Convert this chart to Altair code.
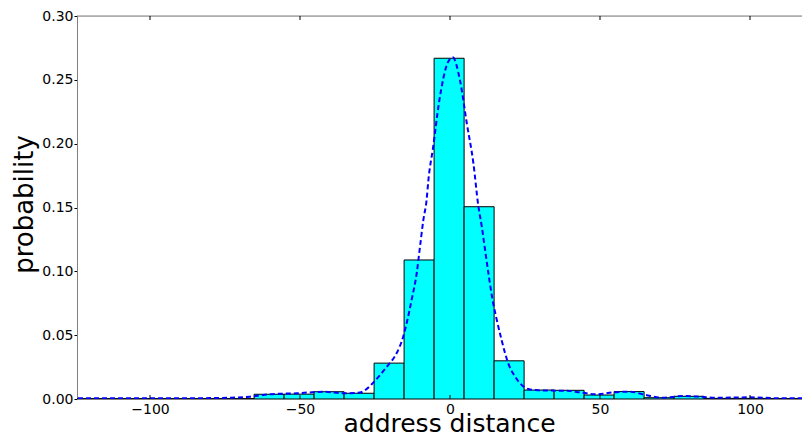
import altair as alt
import pandas as pd

# histogram bins (address distance) and probabilities
bin_left = [-125.3, -115.3, -105.3, -95.3, -85.3, -75.3, -65.3, -55.3, -45.3, -35.3,
            -25.3, -15.3, -5.3, 4.7, 14.7, 24.7, 34.7, 44.7, 54.7, 64.7,
            74.7, 84.7, 94.7, 104.7, 114.7]
bin_right = [-115.3, -105.3, -95.3, -85.3, -75.3, -65.3, -55.3, -45.3, -35.3, -25.3,
             -15.3, -5.3, 4.7, 14.7, 24.7, 34.7, 44.7, 54.7, 64.7, 74.7,
             84.7, 94.7, 104.7, 114.7, 124.7]
bin_prob = [0.0003, 0.0003, 0.0003, 0.0003, 0.0003, 0.0003, 0.0037, 0.0038, 0.0057, 0.0045,
            0.0281, 0.1089, 0.2669, 0.1506, 0.0299, 0.0070, 0.0068, 0.0031, 0.0058, 0.0010,
            0.0021, 0.0005, 0.0005, 0.0004, 0.0004]

# fitted density curve (dashed)
curve_x = [-124, -110, -95, -80, -73, -66.7, -60, -51, -42, -35.6, -30, -28.9, -26.1,
           -23.3, -20.6, -17.8, -15.6, -14.2, -12.8, -11.1, -10.0, -8.9, -7.8, -7.2,
           -5.6, -3.7, -0.6, 0.9, 3.3, 5.6, 7.8, 9.4, 10.6, 11.7, 12.8, 14.2, 15.6,
           17.2, 19.4, 21.7, 23.9, 26.1, 29.4, 32.8, 38.9, 43.3, 48.9, 54.4, 60.0,
           65.3, 70.5, 77.8, 83.3, 88.9, 100, 111, 120]
curve_y = [0.0005, 0.0005, 0.0005, 0.0007, 0.0010, 0.0018, 0.0037, 0.0045, 0.0057, 0.0045,
           0.0050, 0.0060, 0.0115, 0.0188, 0.0266, 0.0358, 0.0488, 0.0619, 0.0775, 0.0985,
           0.1193, 0.1400, 0.1559, 0.1715, 0.1976, 0.2316, 0.2642, 0.2676, 0.2499, 0.2160,
           0.1846, 0.1520, 0.1350, 0.1167, 0.0985, 0.0775, 0.0619, 0.0462, 0.0280, 0.0175,
           0.0110, 0.0078, 0.0068, 0.0066, 0.0065, 0.0052, 0.0037, 0.0052, 0.0057, 0.0031,
           0.0010, 0.0023, 0.0018, 0.0010, 0.0013, 0.0005, 0.0005]

x_ticks = [-100, -50, 0, 50, 100]
y_ticks = [0.0, 0.05, 0.10, 0.15, 0.20, 0.25, 0.30]

W, H = 725, 383
FONT = "DejaVu Sans"

bars = pd.DataFrame({"left": bin_left, "right": bin_right, "p": bin_prob})
curve = pd.DataFrame({"x": curve_x, "y": curve_y})
ticks = pd.DataFrame({"t": x_ticks})
one = pd.DataFrame({"a": [0]})

xscale = alt.Scale(domain=[-124.33, 117.33], nice=False, zero=False)
yscale = alt.Scale(domain=[0, 0.3], nice=False)

xaxis = alt.Axis(values=x_ticks, ticks=False, grid=False, domainColor="#808080",
                 labelFont=FONT, labelFontSize=14, labelColor="black", labelPadding=3,
                 title="address distance", titleFont=FONT, titleFontSize=25,
                 titleFontWeight="normal", titleColor="black", titleX=372, titleY=32,
                 titleBaseline="alphabetic", titleAlign="center")
yaxis = alt.Axis(values=y_ticks, format=".2f", tickSize=3, tickColor="black", grid=False,
                 domainColor="#808080", labelFont=FONT, labelFontSize=14, labelColor="black",
                 labelPadding=1, title="probability", titleFont=FONT, titleFontSize=26,
                 titleFontWeight="normal", titleColor="black", titleAngle=270,
                 titleX=-45, titleY=188, titleBaseline="alphabetic", titleAlign="center")

bar_layer = alt.Chart(bars).mark_rect(fill="#00ffff", stroke="black", strokeWidth=1, clip=True).encode(
    x=alt.X("left:Q", scale=xscale, axis=xaxis),
    x2="right:Q",
    y=alt.Y("p:Q", scale=yscale, axis=yaxis),
    y2=alt.datum(0),
)

line_layer = alt.Chart(curve).mark_line(color="#0000ff", strokeDash=[5, 3], strokeWidth=2,
                                        interpolate="monotone", clip=True).encode(
    x=alt.X("x:Q", scale=xscale, title="address distance"),
    y=alt.Y("y:Q", scale=yscale, title="probability"),
)

top_spine = alt.Chart(one).mark_rule(color="#808080", strokeWidth=1).encode(
    x=alt.value(0), x2=alt.value(W), y=alt.value(0)
)

bottom_ticks = alt.Chart(ticks).mark_rule(color="black", strokeWidth=1).encode(
    x=alt.X("t:Q", scale=xscale, title="address distance"),
    y=alt.value(H), y2=alt.value(H - 4),
)
top_ticks = alt.Chart(ticks).mark_rule(color="black", strokeWidth=1).encode(
    x=alt.X("t:Q", scale=xscale, title="address distance"),
    y=alt.value(0), y2=alt.value(4),
)

chart = alt.layer(bar_layer, line_layer, top_spine, bottom_ticks, top_ticks).properties(
    width=W, height=H,
    autosize=alt.AutoSizeParams(type="none"),
    padding={"left": 69, "top": 8, "right": 0, "bottom": 33},
).configure_view(stroke=None).configure(background="white")

chart.save("out.html", embed_options={"renderer": "svg", "actions": False})
